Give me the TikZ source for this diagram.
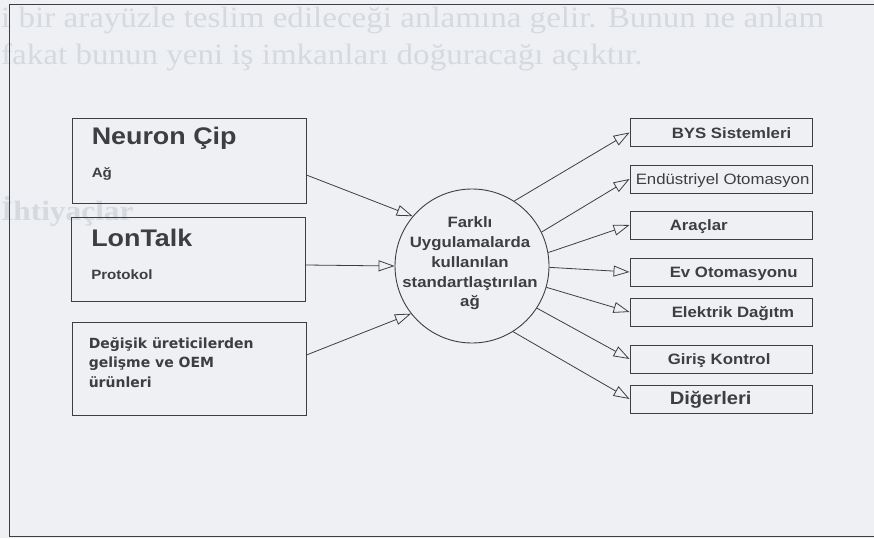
\documentclass[tikz,border=0pt]{standalone}
\usepackage{fontspec}
\setmainfont{Liberation Sans}[FakeStretch=1.12]
\newfontfamily\vfont{DejaVu Sans}
\newfontfamily\bgfont{Liberation Serif}[FakeStretch=1.12]
\usetikzlibrary{calc,arrows.meta}

\definecolor{paper}{HTML}{EEF0F4}
\definecolor{ink}{HTML}{3E3E42}
\definecolor{ghost}{HTML}{D5D9E0}

\tikzset{
  box/.style={draw=ink, line width=0.9pt, minimum width=234pt, inner sep=0pt},
  rbox/.style={draw=ink, line width=0.9pt, minimum width=182pt, minimum height=28pt, inner sep=0pt},
  arr/.style={draw=ink, line width=0.8pt, -{Triangle[open, length=16pt, width=11pt]}},
  big/.style={anchor=base west, inner sep=0pt, text=ink, font=\fontsize{24}{28}\selectfont\bfseries},
  small/.style={anchor=base west, inner sep=0pt, text=ink, font=\fontsize{13.5}{16}\selectfont\bfseries},
  rtxt/.style={anchor=base west, inner sep=0pt, text=ink, font=\fontsize{15}{18}\selectfont\bfseries},
  rtxtn/.style={anchor=base west, inner sep=0pt, text=ink, font=\fontsize{15}{18}\selectfont},
  rtxtb/.style={anchor=base west, inner sep=0pt, text=ink, font=\fontsize{18}{21}\selectfont\bfseries},
  ghosttxt/.style={anchor=base west, inner sep=0pt, text=ghost, font=\bgfont\fontsize{29.5}{34}\selectfont},
}

\begin{document}
\begin{tikzpicture}[x=1pt, y=-1pt]
  \fill[paper] (0,0) rectangle (874,538);
  \useasboundingbox (0,0) rectangle (874,538);

  % text of the page behind the frame
  \node[ghosttxt] (gh1) at (1,27) {i bir arayüzle teslim edileceği anlamına gelir. Bunun ne anlam};
  \node[ghosttxt] (gh2) at (1,64) {fakat bunun yeni iş imkanları doğuracağı açıktır.};
  \node[ghosttxt, font=\bgfont\fontsize{28}{32}\selectfont\bfseries] (gh3) at (1,220) {İhtiyaçlar};

  \draw[ink, line width=1pt] (890,4) -- (9,4) -- (9,536) -- (890,536);

  % inputs
  \node[box, minimum height=85pt] (nc) at (189,160.5) {};
  \node[box, minimum height=84pt] (lt) at (188.5,259) {};
  \node[box, minimum height=93pt] (oem) at (189,368.5) {};

  \node[big] (nct) at ($(nc.north west)+(20,27)$) {Neuron Çip};
  \node[small] (nca) at ($(nc.north west)+(20,60)$) {Ağ};
  \node[big] (ltt) at ($(lt.north west)+(20,30)$) {LonTalk};
  \node[small] (ltp) at ($(lt.north west)+(20,63)$) {Protokol};
  \node[anchor=north west, align=left, inner sep=0pt, text=ink,
        font=\vfont\fontsize{14}{19.5}\selectfont\bfseries] (oemt)
        at ($(oem.north west)+(17,15.5)$) {Değişik üreticilerden\\gelişme ve OEM\\ürünleri};

  % network
  \node[draw=ink, line width=0.9pt, circle, minimum size=154pt, inner sep=0pt] (circ) at (472,266) {};
  \node[align=center, inner sep=0pt, text=ink, font=\fontsize{15}{19.7}\selectfont\bfseries] (circt)
        at (470,263.5) {Farklı\\Uygulamalarda\\kullanılan\\standartlaştırılan\\ağ};

  \draw[arr] ($(nc.east)+(0,14.5)$) -- (circ.140);
  \draw[arr] ($(lt.east)+(0,6)$) -- (circ.180);
  \draw[arr] ($(oem.east)+(0,-13.5)$) -- (circ.218);

  % applications
  \foreach \n/\y/\a/\dx/\s/\t in {
      bys/132.5/57/42/rtxt/BYS Sistemleri,
      endu/179/26/6/rtxtn/Endüstriyel Otomasyon,
      arac/225/10/40/rtxt/Araçlar,
      evo/272/-1/40/rtxt/Ev Otomasyonu,
      elek/312/-16/42/rtxt/Elektrik Dağıtm,
      giris/359/-33/38/rtxt/Giriş Kontrol,
      diger/399/-58/40/rtxtb/Diğerleri}
    {
      \node[rbox] (\n) at (721,\y) {};
      \node[\s] (t\n) at ($(\n.west)+(\dx,5.5)$) {\t};
      \draw[arr] (circ.\a) -- (\n.west);
    }
\end{tikzpicture}
\end{document}
